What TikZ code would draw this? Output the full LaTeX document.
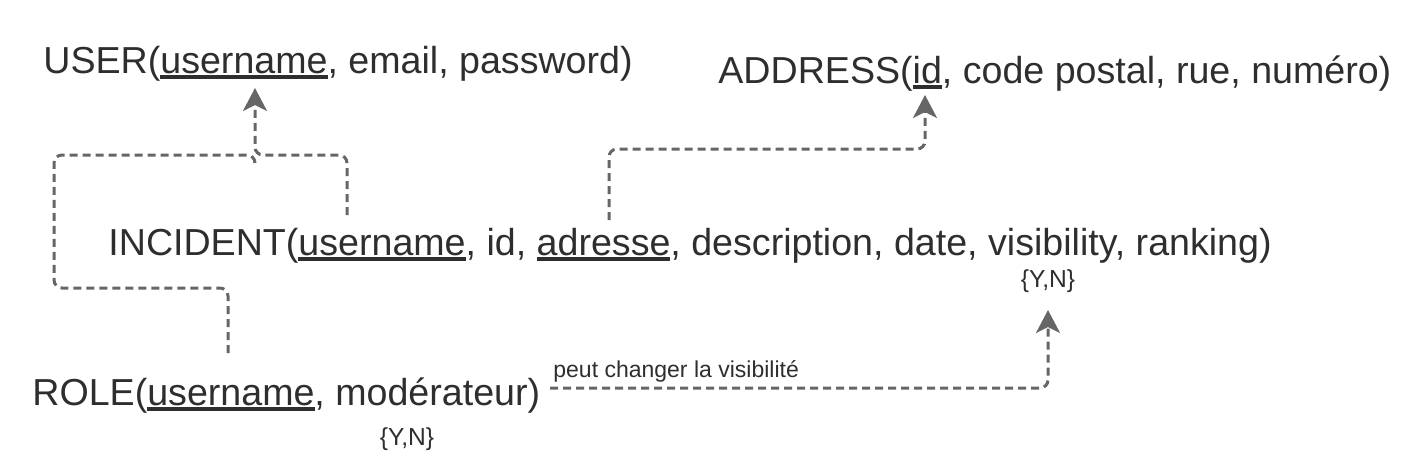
\documentclass[tikz,border=0pt]{standalone}
\usepackage{fontspec}
\setmainfont{Liberation Sans}
\usetikzlibrary{arrows.meta}
\definecolor{txt}{HTML}{2E2E2E}
\definecolor{ln}{HTML}{666666}
\newcommand\keyul[1]{\setbox0\hbox{#1}\rlap{\color{txt}\rule[-3pt]{\wd0}{2pt}}\box0}
\begin{document}
\begin{tikzpicture}[x=0.5pt,y=-0.5pt,
  rel/.style={anchor=base west, inner sep=0pt, text=txt, font=\fontsize{18.8}{22}\selectfont},
  small/.style={inner sep=0pt, text=txt, font=\fontsize{12.3}{14}\selectfont},
  conn/.style={draw=ln, line width=1.5pt, dash pattern=on 4pt off 2.5pt, rounded corners=4pt},
  tip/.style={-{Stealth[length=11.5pt,width=12pt,inset=3pt]}}]
\useasboundingbox (0,0) rectangle (1423,463);
% relations
\node[rel] (user) at (43,73) {USER(\keyul{username}, email, password)};
\node[rel] (address) at (718,83) {ADDRESS(\keyul{id}, code postal, rue, numéro)};
\node[rel] (incident) at (108,255) {INCIDENT(\keyul{username}, id, \keyul{adresse}, description, date, visibility, ranking)};
\node[rel] (role) at (32,405) {ROLE(\keyul{username}, modérateur)};
\node[small] (yn1) at (1048,281) {\{Y,N\}};
\node[small] (yn2) at (407,439) {\{Y,N\}};
\node[small, font=\fontsize{11.5}{13}\selectfont, anchor=base west] (lbl) at (553,377) {peut changer la visibilité};
% anchor points
\coordinate (userIn) at (255,88);
\coordinate (incOut) at (347,215);
\coordinate (addrIn) at (925,95);
\coordinate (incAdr) at (609,220);
\coordinate (roleUp) at (228,353);
\coordinate (roleR) at (550,388);
\coordinate (visIn) at (1048,310);
% connectors
\draw[conn,tip] (incOut) -- (incOut |- 0,155) -- (userIn |- 0,155) -- (userIn);
\draw[conn] (roleUp) -- (roleUp |- 0,288) -- (54,288) -- (54,155) -- (userIn |- 0,155) -- ([yshift=-4pt]userIn |- 0,155);
\draw[conn,tip] (incAdr) -- (incAdr |- 0,149) -- (addrIn |- 0,149) -- (addrIn);
\draw[conn,tip] (roleR) -- (visIn |- roleR) -- (visIn);
\end{tikzpicture}
\end{document}
